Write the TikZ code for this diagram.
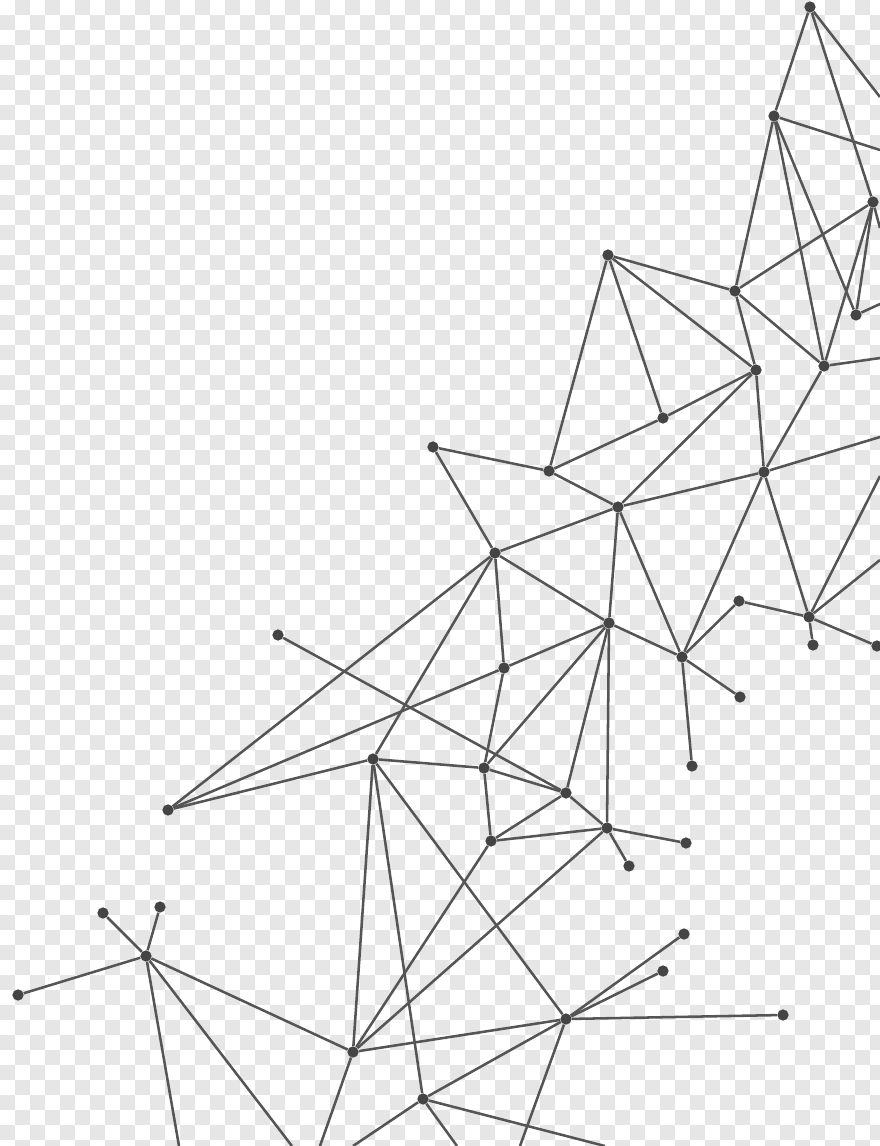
\documentclass[tikz,border=0pt]{standalone}
\usepackage{tikz}
\usetikzlibrary{positioning}

\definecolor{linegray}{HTML}{555555}
\definecolor{dotgray}{HTML}{444444}
\definecolor{checkgray}{HTML}{E6E6E6}

\tikzset{
  dot/.style={circle, fill=dotgray, inner sep=0pt, minimum size=8},
  link/.style={draw=linegray, line width=1.8},
}

\begin{document}
\begin{tikzpicture}[x=0.025cm, y=-0.025cm]
    \useasboundingbox (0,0) rectangle (880,1146);
    \clip (0,0) rectangle (880,1146);

    % Checkerboard background
    \fill[white] (0,0) rectangle (880,1146);
    \foreach \j in {0,...,76} {
        \foreach \i in {0,...,58} {
            \pgfmathtruncatemacro\cellodd{mod(\i+\j,2)}
            \ifnum\cellodd=1
                \fill[checkgray] (15*\i,15*\j) rectangle ++(15,15);
            \fi
        }
    }

    % Points
    \node[dot] (a)  at (810,7) {};
    \node[dot] (b)  at (774,116) {};
    \node[dot] (c)  at (873,202) {};
    \node[dot] (d)  at (608,255) {};
    \node[dot] (e)  at (735,291) {};
    \node[dot] (f)  at (856,315) {};
    \node[dot] (g)  at (756,370) {};
    \node[dot] (h)  at (824,366) {};
    \node[dot] (o)  at (663,418) {};
    \node[dot] (p)  at (433,447) {};
    \node[dot] (q)  at (549,471) {};
    \node[dot] (i)  at (764,472) {};
    \node[dot] (r)  at (618,507) {};
    \node[dot] (s)  at (495,553) {};
    \node[dot] (j)  at (739,601) {};
    \node[dot] (k)  at (809,617) {};
    \node[dot] (t)  at (609,623) {};
    \node[dot] (x)  at (278,635) {};
    \node[dot] (l)  at (813,645) {};
    \node[dot] (m)  at (877,646) {};
    \node[dot] (n)  at (682,657) {};
    \node[dot] (v)  at (504,668) {};
    \node[dot] (w)  at (740,697) {};
    \node[dot] (z)  at (373,759) {};
    \node[dot] (aa) at (692,766) {};
    \node[dot] (ab) at (484,768) {};
    \node[dot] (ac) at (566,793) {};
    \node[dot] (y)  at (168,810) {};
    \node[dot] (ad) at (607,828) {};
    \node[dot] (ae) at (491,841) {};
    \node[dot] (af) at (686,843) {};
    \node[dot] (ag) at (629,866) {};
    \node[dot] (an) at (160,907) {};
    \node[dot] (am) at (103,913) {};
    \node[dot] (ah) at (684,934) {};
    \node[dot] (ao) at (146,956) {};
    \node[dot] (ai) at (663,971) {};
    \node[dot] (ap) at (18,995) {};
    \node[dot] (ak) at (783,1015) {};
    \node[dot] (aj) at (566,1019) {};
    \node[dot] (aq) at (353,1052) {};
    \node[dot] (al) at (423,1099) {};

    % Loose ends past the edge
    \coordinate (oa)  at (880,97);
    \coordinate (ob)  at (880,150);
    \coordinate (oc)  at (880,228);
    \coordinate (of)  at (880,304);
    \coordinate (oh)  at (880,358);
    \coordinate (oi)  at (880,437);
    \coordinate (ok1) at (880,476);
    \coordinate (ok2) at (880,560);
    \coordinate (oj)  at (520,1146);
    \coordinate (ol1) at (605,1146);
    \coordinate (ol2) at (457,1146);
    \coordinate (ol3) at (353,1146);
    \coordinate (oq)  at (320,1146);
    \coordinate (oo1) at (179,1146);
    \coordinate (oo2) at (292,1146);

    % Links
    \foreach \u/\v in {a/b, a/c, a/oa, b/ob, b/e, b/h, b/f, c/e, c/h, c/f, c/oc,
        d/e, d/q, d/o, d/g, e/g, e/h, f/of, g/o, g/r, g/i, h/i, h/oh,
        i/r, i/n, i/k, i/oi, j/k, j/n, k/l, k/m, k/ok1, k/ok2,
        o/q, p/q, p/s, q/r, r/s, r/t, r/n, s/t, s/v, s/y, s/z,
        t/v, t/ad, t/ac, t/ab, t/n, n/w, n/aa, v/ab, v/y, x/ac, y/z,
        z/ab, z/aq, z/al, z/aj, ab/ac, ab/ae, ac/ad, ac/ae,
        ad/ae, ad/af, ad/ag, ad/aq, ae/aq,
        aj/ah, aj/ai, aj/ak, aj/aq, aj/al, aj/oj,
        al/ol1, al/ol2, al/ol3, aq/ao, aq/oq,
        ao/am, ao/an, ao/ap, ao/oo1, ao/oo2}
        \draw[link] (\u) -- (\v);
\end{tikzpicture}
\end{document}
